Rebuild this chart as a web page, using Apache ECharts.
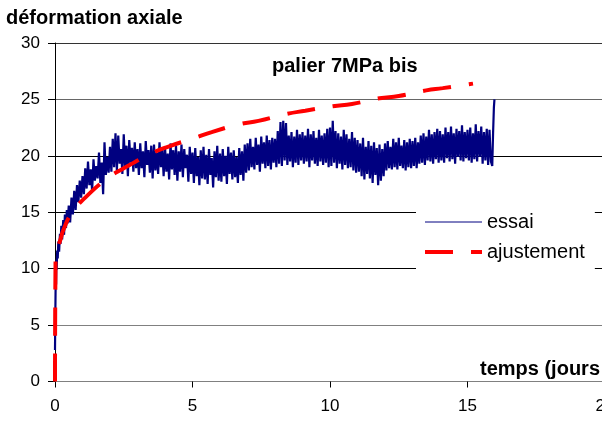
<!DOCTYPE html>
<html>
<head>
<meta charset="utf-8">
<script src="https://cdn.jsdelivr.net/npm/echarts@6/dist/echarts.min.js"></script>
</head>
<body style="margin:0">
<div id="container" style="width:602px;height:421px"></div>
<script type="text/javascript">
// essai : first quick rise, read point by point
var essaiStartT = [0, 0.01, 0.02, 0.03, 0.04, 0.05, 0.06, 0.08, 0.1, 0.12, 0.15, 0.18, 0.2, 0.23, 0.26, 0.3, 0.33, 0.36, 0.4, 0.43, 0.46];
var essaiStartV = [2.8, 5.5, 7.8, 9.5, 8.6, 10.8, 9.9, 11.6, 10.9, 12.4, 11.5, 13.1, 12.2, 13.8, 12.6, 14.3, 13.0, 14.8, 13.6, 15.2, 14.0];

// essai : regular samples from t = 0.5 day, every 0.05 day
var essaiT0 = 0.5;
var essaiStep = 0.05;
var essaiValues = [
  15.6, 14.1, 16.3, 14.8, 16.9, 15.2, 17.4, 15.9, 17.8, 16.3,
  18.2, 16.6, 18.9, 17.1, 19.5, 17.4, 18.8, 16.9, 19.7, 17.8, 19.1, 18.0, 20.3, 17.6, 19.4, 16.6, 21.2, 18.3, 19.9, 18.5,
  20.8, 18.6, 21.5, 19.0, 22.0, 18.7, 21.8, 19.3, 20.6, 18.4, 21.9, 19.1, 20.9, 18.2, 21.4, 19.4, 20.7, 18.6, 21.2, 18.9,
  20.6, 18.3, 21.1, 18.9, 20.4, 18.1, 21.3, 19.2, 20.5, 18.5, 20.9, 18.0, 21.0, 18.7, 20.3, 18.4, 21.2, 19.0, 20.6, 18.2,
  20.8, 18.6, 20.2, 17.9, 21.1, 18.8, 20.5, 18.3, 20.9, 17.8, 20.4, 18.6, 21.0, 18.1, 20.6, 18.9, 20.1, 17.7, 20.8, 18.4,
  20.3, 17.6, 20.7, 18.2, 19.9, 17.4, 20.5, 18.0, 20.8, 17.9, 20.1, 17.5, 20.6, 18.3, 19.8, 17.2, 20.4, 18.1, 20.9, 17.8,
  20.2, 17.7, 20.6, 18.2, 20.0, 17.5, 20.8, 18.4, 20.3, 17.9, 20.5, 18.1, 19.9, 17.6, 20.7, 18.3, 20.4, 17.8, 21.0, 18.5,
  21.1, 18.7, 21.5, 19.0, 20.8, 18.8, 21.6, 19.2, 21.0, 18.6, 21.7, 19.3, 21.2, 18.9, 21.8, 19.1, 21.4, 18.8, 21.6, 19.4,
  21.5, 19.0, 22.2, 19.3, 23.0, 19.1, 23.1, 19.6, 22.9, 19.2, 21.8, 19.5, 22.1, 19.0, 21.7, 19.4, 22.3, 19.2, 21.9, 19.6,
  22.1, 19.3, 21.8, 19.5, 22.4, 19.0, 21.9, 19.6, 22.2, 19.3, 21.6, 19.1, 22.3, 19.5, 21.8, 19.2, 22.0, 19.4, 22.4, 19.0,
  22.5, 19.1, 23.1, 19.4, 22.2, 18.9, 22.0, 19.3, 21.7, 18.8, 22.3, 19.2, 21.9, 18.9, 21.5, 19.0, 22.1, 18.7, 21.6, 18.5,
  21.4, 18.6, 21.1, 18.2, 21.6, 17.9, 20.8, 18.4, 21.3, 18.0, 20.9, 17.6, 21.2, 18.3, 20.7, 17.4, 21.0, 17.8, 20.6, 18.2,
  21.1, 18.7, 21.3, 18.9, 20.8, 18.8, 21.5, 19.0, 21.2, 18.8, 21.6, 19.1, 20.9, 18.9, 21.4, 18.7, 21.2, 19.0, 21.5, 18.9,
  21.3, 19.1, 21.6, 18.9, 21.2, 19.3, 21.8, 19.4, 22.0, 19.2, 21.7, 19.6, 22.3, 19.5, 21.9, 19.3, 22.1, 19.7, 22.4, 19.4,
  22.2, 19.6, 21.9, 19.4, 22.5, 19.8, 22.1, 19.5, 22.6, 19.7, 22.0, 19.3, 22.4, 19.9, 22.2, 19.6, 22.7, 19.5, 22.1, 19.8,
  22.3, 19.6, 22.5, 19.4, 22.0, 19.7, 22.8, 19.5, 22.2, 19.9, 22.6, 19.3, 22.1, 19.6, 22.4, 19.2, 22.3, 19.5
];

// essai : final jump
var essaiEndT = [15.9, 15.93, 15.96, 15.98];
var essaiEndV = [19.1, 22.0, 24.3, 25.0];

// ajustement (fitted curve)
var fitT = [0, 0.02, 0.1, 0.2, 0.3, 0.6, 1.1, 1.9, 2.5, 3.5, 4.1, 5.1, 5.7, 6.7, 7.4, 8.4, 9.1, 10.1, 10.8, 11.8, 12.5, 13.5, 14.1, 15.2];
var fitV = [0, 10.8, 11.8, 12.6, 13.4, 14.9, 16.3, 18.0, 18.9, 20.2, 20.8, 21.6, 22.1, 22.8, 23.1, 23.7, 24.0, 24.4, 24.6, 25.1, 25.3, 25.8, 26.0, 26.4];

var yTicks = [0, 5, 10, 15, 20, 25, 30];
var xTicks = [0, 5, 10, 15, 20];

var essaiData = [];
for (var i = 0; i < essaiStartT.length; i++) essaiData.push([essaiStartT[i], essaiStartV[i]]);
for (var j = 0; j < essaiValues.length; j++) essaiData.push([+(essaiT0 + j * essaiStep).toFixed(2), essaiValues[j]]);
for (var k = 0; k < essaiEndT.length; k++) essaiData.push([essaiEndT[k], essaiEndV[k]]);

var fitData = [];
for (var m = 0; m < fitT.length; m++) fitData.push([fitT[m], fitV[m]]);

var font = 'Liberation Sans, Arial, sans-serif';
var myChart = echarts.init(document.getElementById('container'));
var option = {
    animation: false,
    backgroundColor: '#fff',
    textStyle: { fontFamily: font },
    title: [
        { text: 'déformation axiale', left: 6, top: 8, padding: 0,
          textStyle: { fontSize: 20, fontWeight: 'bold', color: '#000', fontFamily: font } },
        { text: 'palier 7MPa bis', left: 272, top: 56, padding: 0,
          textStyle: { fontSize: 20, fontWeight: 'bold', color: '#000', fontFamily: font } },
        { text: 'temps (jours', left: 480, top: 359, padding: 0,
          textStyle: { fontSize: 20, fontWeight: 'bold', color: '#000', fontFamily: font } }
    ],
    legend: {
        orient: 'vertical',
        left: 416,
        top: 206,
        padding: [6, 10, 8, 7],
        backgroundColor: '#fff',
        itemWidth: 57,
        itemHeight: 14,
        itemGap: 10,
        itemStyle: { opacity: 0 },
        textStyle: { fontSize: 20, color: '#000', fontFamily: font },
        data: [
            { name: 'essai', lineStyle: { width: 1 } },
            { name: 'ajustement', lineStyle: { width: 4 } }
        ]
    },
    grid: { left: 55, top: 43, width: 550, height: 338.5, outerBoundsMode: 'none', containLabel: false },
    xAxis: {
        type: 'value',
        min: xTicks[0],
        max: xTicks[xTicks.length - 1],
        interval: 5,
        axisLine: { show: true, lineStyle: { color: '#808080', width: 1 } },
        axisTick: { show: true, length: 6, lineStyle: { color: '#000' } },
        axisLabel: { margin: 16, fontSize: 17, color: '#000', fontFamily: font },
        splitLine: { show: false }
    },
    yAxis: {
        type: 'value',
        min: yTicks[0],
        max: yTicks[yTicks.length - 1],
        interval: 5,
        axisLine: { show: true, lineStyle: { color: '#000', width: 1 } },
        axisTick: { show: true, length: 7, lineStyle: { color: '#000' } },
        axisLabel: { margin: 15, fontSize: 17, color: '#000', fontFamily: font },
        splitLine: { show: true, lineStyle: { color: ['#808080', '#808080', '#000', '#000', '#000', '#666', '#333'], width: 1 } }
    },
    series: [
        {
            name: 'essai',
            type: 'line',
            data: essaiData,
            showSymbol: false,
            symbol: 'none',
            lineStyle: { color: '#000080', width: 2.2 },
            itemStyle: { color: '#000080' }
        },
        {
            name: 'ajustement',
            type: 'line',
            data: fitData,
            showSymbol: false,
            symbol: 'none',
            smooth: true,
            lineStyle: { color: '#ff0000', width: 4, type: [28, 18] },
            itemStyle: { color: '#ff0000' }
        }
    ]
};
myChart.setOption(option);
</script>
</body>
</html>
